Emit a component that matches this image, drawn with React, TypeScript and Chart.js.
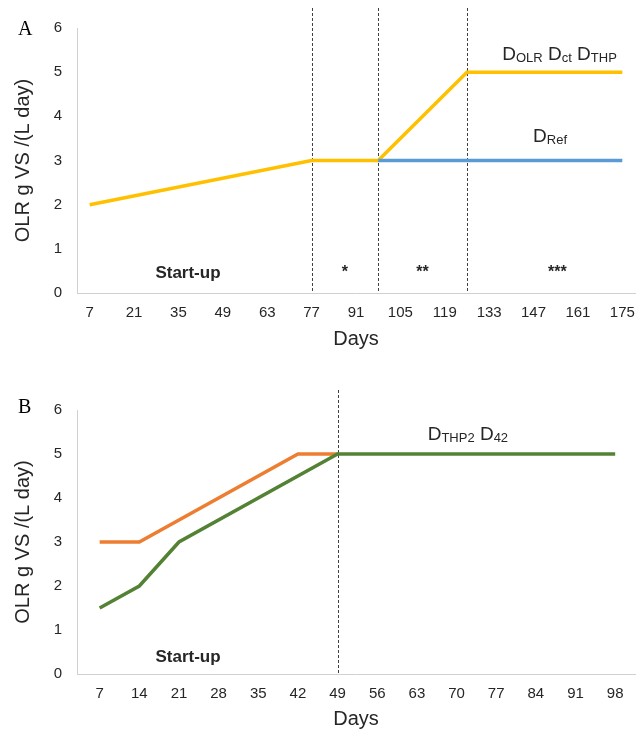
import React, { useEffect, useRef } from 'react';
import { Chart, registerables } from 'chart.js';

Chart.register(...registerables);

const FONT = '"Liberation Sans", Arial, sans-serif';
const SERIF = '"Liberation Serif", "Times New Roman", serif';
const TEXT = '#262626';

// ---------- Panel A data ----------
const xTicksA = [7, 21, 35, 49, 63, 77, 91, 105, 119, 133, 147, 161, 175];
const mainDaysA = [7, 77, 98, 126, 175];
const mainOlrA = [2, 3, 3, 5, 5];
const refDaysA = [98, 175];
const refOlrA = [3, 3];
const phaseBoundsA = [77, 98, 126];

// ---------- Panel B data ----------
const xTicksB = [7, 14, 21, 28, 35, 42, 49, 56, 63, 70, 77, 84, 91, 98];
const orangeDaysB = [7, 14, 42, 49];
const orangeOlrB = [3, 3, 5, 5];
const greenDaysB = [7, 14, 21, 49, 98];
const greenOlrB = [1.5, 2, 3, 5, 5];
const phaseBoundsB = [49];

const yTicks = [0, 1, 2, 3, 4, 5, 6];

type Part = [string, boolean];
type Note = { day: number; olr: number; text?: string; parts?: Part[]; bold?: boolean; size?: number };

type Series = { days: number[]; olr: number[]; color: string };

type PanelSpec = {
  letter: string;
  height: number;
  top: number;
  xAxisHeight: number;
  titlePad: number;
  xMin: number;
  xMax: number;
  xTicks: number[];
  series: Series[];
  bounds: number[];
  lineTop: number;
  letterBaseline: number;
  notes: Note[];
};

function drawRich(ctx: CanvasRenderingContext2D, parts: Part[], cx: number, baseline: number) {
  const main = 19;
  const sub = 13;
  const widths = parts.map(([t, s]) => {
    ctx.font = `${s ? sub : main}px ${FONT}`;
    return ctx.measureText(t).width;
  });
  const total = widths.reduce((a, b) => a + b, 0);
  let x = cx - total / 2;
  ctx.textAlign = 'left';
  ctx.textBaseline = 'alphabetic';
  parts.forEach(([t, s], i) => {
    ctx.font = `${s ? sub : main}px ${FONT}`;
    ctx.fillText(t, x, baseline + (s ? 2 : 0));
    x += widths[i];
  });
}

function makeOverlay(p: PanelSpec) {
  return {
    id: 'overlay' + p.letter,
    beforeDatasetsDraw(chart: any) {
      const { ctx, chartArea, scales } = chart;
      ctx.save();
      ctx.strokeStyle = '#404040';
      ctx.lineWidth = 1;
      ctx.setLineDash([3, 2]);
      for (const d of p.bounds) {
        const x = Math.round(scales.x.getPixelForValue(d)) + 0.5;
        ctx.beginPath();
        ctx.moveTo(x, p.lineTop);
        ctx.lineTo(x, chartArea.bottom);
        ctx.stroke();
      }
      ctx.restore();
    },
    afterDatasetsDraw(chart: any) {
      const { ctx, scales } = chart;
      ctx.save();
      ctx.fillStyle = TEXT;
      for (const n of p.notes) {
        const x = scales.x.getPixelForValue(n.day);
        const y = scales.y.getPixelForValue(n.olr);
        if (n.parts) {
          drawRich(ctx, n.parts, x, y);
        } else if (n.text) {
          ctx.font = `${n.bold ? 'bold ' : ''}${n.size || 17}px ${FONT}`;
          ctx.textAlign = 'center';
          ctx.textBaseline = 'middle';
          ctx.fillText(n.text, x, y);
        }
      }
      ctx.fillStyle = '#000';
      ctx.font = `20px ${SERIF}`;
      ctx.textAlign = 'left';
      ctx.textBaseline = 'alphabetic';
      ctx.fillText(p.letter, 18, p.letterBaseline);
      ctx.restore();
    },
  };
}

function buildConfig(p: PanelSpec): any {
  const border = { display: true, color: '#D0D0D0', width: 1 };
  return {
    type: 'line',
    data: {
      datasets: p.series.map((s) => ({
        data: s.days.map((d, i) => ({ x: d, y: s.olr[i] })),
        borderColor: s.color,
        backgroundColor: s.color,
        borderWidth: 3.5,
        pointRadius: 0,
        tension: 0,
        fill: false,
        borderJoinStyle: 'miter',
      })),
    },
    options: {
      responsive: false,
      animation: false,
      devicePixelRatio: 1,
      layout: { padding: { top: p.top, right: 4, left: 0, bottom: 0 } },
      plugins: { legend: { display: false }, tooltip: { enabled: false } },
      scales: {
        x: {
          type: 'linear',
          min: p.xMin,
          max: p.xMax,
          afterBuildTicks: (s: any) => {
            s.ticks = p.xTicks.map((v) => ({ value: v }));
          },
          afterFit: (s: any) => {
            s.height = p.xAxisHeight;
            s.paddingLeft = 0;
            s.paddingRight = 0;
          },
          grid: { display: false, drawTicks: false },
          border,
          ticks: {
            padding: 11,
            autoSkip: false,
            maxRotation: 0,
            color: TEXT,
            font: { family: FONT, size: 15 },
            callback: (v: any) => String(v),
          },
          title: {
            display: true,
            text: 'Days',
            color: TEXT,
            font: { family: FONT, size: 20 },
            padding: { top: 0, bottom: p.titlePad },
          },
        },
        y: {
          type: 'linear',
          min: 0,
          max: 6,
          afterBuildTicks: (s: any) => {
            s.ticks = yTicks.map((v) => ({ value: v }));
          },
          afterFit: (s: any) => {
            s.width = 77;
            s.paddingTop = 0;
            s.paddingBottom = 0;
          },
          grid: { display: false, drawTicks: false },
          border,
          ticks: {
            padding: 15,
            color: TEXT,
            font: { family: FONT, size: 15 },
            callback: (v: any) => String(v),
          },
          title: {
            display: true,
            text: 'OLR g VS /(L day)',
            color: TEXT,
            font: { family: FONT, size: 20 },
            padding: { top: 11, bottom: 0 },
          },
        },
      },
    },
    plugins: [makeOverlay(p)],
  };
}

const panelA: PanelSpec = {
  letter: 'A',
  height: 365,
  top: 28,
  xAxisHeight: 72,
  titlePad: 14,
  xMin: 3,
  xMax: 179,
  xTicks: xTicksA,
  series: [
    { days: refDaysA, olr: refOlrA, color: '#5B9BD5' },
    { days: mainDaysA, olr: mainOlrA, color: '#FFC000' },
  ],
  bounds: phaseBoundsA,
  lineTop: 8,
  letterBaseline: 35,
  notes: [
    { day: 38, olr: 0.45, text: 'Start-up', bold: true, size: 17 },
    { day: 87.5, olr: 0.47, text: '*', bold: true, size: 16 },
    { day: 112, olr: 0.47, text: '**', bold: true, size: 16 },
    { day: 154.5, olr: 0.47, text: '***', bold: true, size: 16 },
    {
      day: 155.2,
      olr: 5.27,
      parts: [
        ['D', false],
        ['OLR', true],
        [' D', false],
        ['ct', true],
        [' D', false],
        ['THP', true],
      ],
    },
    {
      day: 152.2,
      olr: 3.42,
      parts: [
        ['D', false],
        ['Ref', true],
      ],
    },
  ],
};

const panelB: PanelSpec = {
  letter: 'B',
  height: 368,
  top: 45,
  xAxisHeight: 59,
  titlePad: 2,
  xMin: 3,
  xMax: 101.5,
  xTicks: xTicksB,
  series: [
    { days: greenDaysB, olr: greenOlrB, color: '#548235' },
    { days: orangeDaysB, olr: orangeOlrB, color: '#ED7D31' },
  ],
  bounds: phaseBoundsB,
  lineTop: 25,
  letterBaseline: 48,
  notes: [
    { day: 22.6, olr: 0.39, text: 'Start-up', bold: true, size: 17 },
    {
      day: 72,
      olr: 5.32,
      parts: [
        ['D', false],
        ['THP2', true],
        [' D', false],
        ['42', true],
      ],
    },
  ],
};

function Panel({ spec }: { spec: PanelSpec }) {
  const ref = useRef<HTMLCanvasElement>(null);
  useEffect(() => {
    const chart = new Chart(ref.current as HTMLCanvasElement, buildConfig(spec));
    return () => chart.destroy();
  }, []);
  return (
    <canvas
      ref={ref}
      width={639}
      height={spec.height}
      style={{ display: 'block', width: 639, height: spec.height }}
    />
  );
}

export default function App() {
  return (
    <div
      style={{
        position: 'absolute',
        left: 0,
        top: 0,
        width: 639,
        height: 733,
        background: '#ffffff',
      }}
    >
      <Panel spec={panelA} />
      <Panel spec={panelB} />
    </div>
  );
}
